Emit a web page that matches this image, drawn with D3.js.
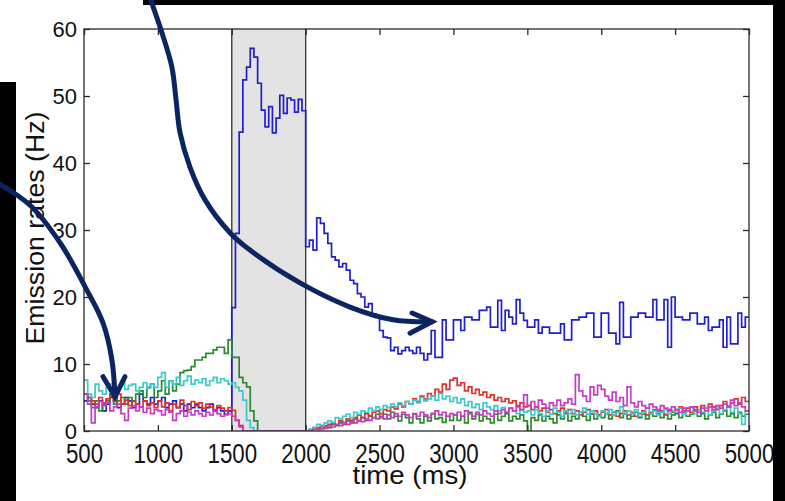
<!DOCTYPE html>
<html>
<head>
<meta charset="utf-8">
<script src="https://cdn.jsdelivr.net/npm/d3@7"></script>
<style>
  html, body { margin: 0; padding: 0; background: #fff; }
  svg { display: block; }
  text { font-family: "Liberation Sans", Arial, Helvetica, sans-serif; fill: #111; }
</style>
</head>
<body>
<svg id="chart" width="785" height="501"></svg>
<script>
// Population emission rates, 25 ms bins from 500 ms to 5000 ms (180 bins each)
const binStart = 500;
const binWidth = 25;
const timeDomain = [500, 5000];
const rateDomain = [0, 60];
const xTicks = [500, 1000, 1500, 2000, 2500, 3000, 3500, 4000, 4500, 5000];
const yTicks = [0, 10, 20, 30, 40, 50, 60];
const stimulusWindow = [1500, 2000];
const xLabel = "time (ms)";
const yLabel = "Emission rates (Hz)";

const blueRates = [
  4.5, 5, 4, 3.5, 4.5, 3, 4, 5, 4.5, 3.5, 4, 5, 4.5, 3.5, 4, 5.5, 4.5, 4, 5, 4,
  4.5, 5, 3.5, 4, 4.5, 3.5, 4, 3, 4, 3.5, 4, 3.5, 3, 3.5, 4, 3, 3.5, 3, 2.5, 3,
  18.4, 29.5, 44.6, 52.4, 54.3, 57.1, 55.8, 51.9, 47.9, 45.4, 48.4, 44.5, 46.7, 50.1, 47.4, 49.7, 49.4, 47.6, 49.5, 47.8,
  27.5, 28.5, 27, 31.8, 31, 29.5, 28, 26, 25.5, 24.5, 25, 24, 22.5, 22, 20.5, 20, 18.5, 19, 17.5, 17,
  15, 14, 13.9, 12, 12.5, 11.5, 12, 12.5, 12, 11.6, 12.5, 11.6, 10.6, 11.5, 15, 11, 11, 16.6, 13.6, 13.6,
  16.6, 16.6, 15, 17, 17, 16.6, 16.6, 18, 18, 18.5, 15.5, 15.5, 19.5, 15, 18, 17, 16, 19.6, 17.6, 16.5,
  15.5, 15.5, 16.6, 14.6, 15.5, 15.5, 14.6, 14.6, 14.6, 16, 13.6, 13.6, 16.6, 16.6, 17, 17, 17.6, 17.6, 14, 14,
  17.6, 17.6, 14.6, 14.6, 13, 19.2, 14, 14, 17, 17, 17.6, 17.6, 17, 17, 19.6, 16.6, 16.6, 19.6, 12.5, 20,
  17, 17, 16.6, 16.6, 17.6, 17.6, 16, 16, 17, 15, 15.5, 15.5, 16.6, 12.5, 17, 13, 13, 17.6, 15.5, 17
];

const greenRates = [
  5.5, 4.5, 3.5, 4.5, 3, 4, 4.5, 5.5, 4, 4.5, 5, 4, 5, 4.5, 5.5, 6, 5, 6.5, 7, 5,
  6, 7.5, 5.5, 7.5, 6, 7, 8.7, 9, 9.1, 9.6, 10.6, 10.6, 11, 11.6, 11.6, 12.1, 12.5, 12.5, 11.6, 13.6,
  11, 11, 8, 7.2, 6.6, 3, 1.5, 0, 0, 0, 0, 0, 0, 0, 0, 0, 0, 0, 0, 0,
  0, 0, 0.3, 0.5, 0.3, 0.8, 0.5, 1, 0.8, 1.2, 1, 1.5, 1.2, 1.8, 1.5, 2, 1.6, 2.2, 2, 2.5,
  2, 2.5, 1.8, 2.8, 2.2, 1.5, 2.5, 2, 1.2, 2.5, 1.8, 1.2, 2.2, 1.5, 2.6, 1.8, 2, 1.3, 2.2, 1.6,
  2.4, 1.6, 2.2, 1.2, 2.8, 1.8, 2.5, 1.5, 2.2, 1.8, 1.2, 2.5, 1.6, 2.2, 2.6, 1.5, 2.2, 1.8, 2.4, 1.5,
  0, 2, 1.6, 2.4, 1.5, 2.2, 1.8, 1.2, 2.4, 1.8, 2.6, 1.5, 2.2, 1.8, 2.8, 2.2, 1.6, 2.5, 1.8, 2.4,
  2, 2.6, 1.8, 2.4, 3, 2, 2.6, 1.8, 2.2, 2.8, 2, 2.5, 1.8, 2.6, 2.2, 3, 2, 2.5, 1.8, 2.4,
  2.6, 2, 2.8, 2.2, 2.5, 3, 2.2, 2.6, 1.8, 2.4, 2.8, 2, 2.5, 3, 2.2, 2.6, 2, 2.8, 2.2, 2.5
];

const redRates = [
  5.5, 5, 4.5, 4, 5, 4.2, 4.8, 5.2, 4.4, 5.5, 4, 4.6, 3.8, 4.4, 4, 3.6, 4.5, 3.8, 4.2, 3.5,
  4.5, 3.6, 4.2, 3, 4, 3.5, 4.6, 3.8, 3.2, 4.4, 3.8, 4.2, 3.4, 4, 3.6, 3.2, 3.8, 3.4, 3, 3.5,
  3.1, 1.6, 0.8, 0, 0, 0, 0, 0, 0, 0, 0, 0, 0, 0, 0, 0, 0, 0, 0, 0,
  0, 0.2, 0.5, 0.4, 0.8, 0.6, 1, 1.2, 0.9, 1.5, 1.3, 1.8, 1.6, 2, 2.4, 2, 2.6, 2.3, 2.8, 3,
  2.6, 3.2, 3, 3.6, 3.3, 4, 3.6, 4.4, 4, 4.8, 4.4, 5.2, 4.8, 5.6, 5.2, 6.2, 5.8, 7, 6.2, 7.6,
  7.9, 6.8, 7.2, 6, 6.6, 5.6, 6.2, 5.4, 5.8, 5, 5.4, 4.6, 5, 4.4, 4.8, 4.2, 4.5, 3.8, 4.2, 3.6,
  3.8, 3.2, 3.6, 3, 3.4, 2.8, 3.2, 2.6, 3, 3.4, 2.8, 3.2, 2.6, 3, 2.4, 2.8, 3.2, 2.6, 3, 2.4,
  2.8, 3.2, 2.4, 2.8, 2.2, 2.6, 3, 2.4, 2.8, 2.2, 2.6, 3, 2.4, 2.8, 3.2, 2.6, 3, 2.4, 3.2, 2.8,
  3.2, 3.6, 3, 3.4, 2.8, 3.6, 3.2, 3.8, 3.4, 4, 3.6, 3.2, 3.8, 4.4, 3.6, 4.2, 4.8, 4, 5, 4.4
];

const cyanRates = [
  7.6, 5.5, 5, 7, 6, 5.5, 6.5, 7, 5.8, 6.5, 7.5, 6.2, 6.8, 7, 6, 6.5, 7.2, 6.4, 7, 6.5,
  8, 8.7, 6.5, 7.5, 7, 8, 6.8, 7.5, 8.2, 7, 7.6, 7.2, 7.8, 6.8, 7.5, 8, 7.2, 7.8, 7.5, 7,
  7.2, 6.5, 6, 4.6, 1.6, 0.5, 0, 0, 0, 0, 0, 0, 0, 0, 0, 0, 0, 0, 0, 0,
  0, 0.3, 0.5, 1, 0.8, 1.2, 1.5, 1.3, 2, 1.8, 2.2, 2.5, 2, 2.8, 2.5, 3, 2.8, 3.4, 3, 3.6,
  3.2, 3.8, 3.5, 4, 3.6, 4.2, 3.8, 4.4, 4, 4.6, 4.2, 5, 4.5, 4.8, 5.2, 4.6, 5.6, 4.8, 5.2, 4.4,
  5, 4.2, 4.8, 3.8, 4.4, 3.5, 4, 3.2, 4.2, 3.6, 3.2, 3.8, 3, 3.5, 2.8, 3.4, 3, 2.6, 3.2, 2.8,
  3, 2.4, 3.2, 2.6, 2.2, 3, 2.5, 3.4, 2.8, 2.2, 3, 2.6, 3.2, 2.4, 2.8, 3.4, 2.5, 3, 2.6, 2.2,
  3, 2.6, 3.2, 2.4, 2.8, 3.6, 2.5, 3, 2.6, 3.2, 2.2, 2.8, 3.4, 2.6, 3, 2.4, 2.8, 3.2, 2.6, 3,
  2.8, 3.4, 2.5, 3, 3.6, 2.6, 3.2, 2.8, 3.5, 2.4, 3, 3.4, 2.6, 3.2, 3.8, 2.8, 3.4, 2.6, 1, 3
];

const magentaRates = [
  5.5, 4, 1.2, 3.6, 4.4, 3.8, 4.2, 3, 3.6, 4, 2.6, 1.6, 3.4, 3.8, 3, 3.6, 2.8, 3.4, 2.6, 3.2,
  3, 2.4, 3.2, 2.8, 1.6, 2.6, 3, 2.2, 2.8, 2.4, 3, 2.6, 2.2, 2.8, 2.4, 3, 2.6, 2.2, 2.4, 2.6,
  2.2, 1.6, 0.6, 0, 0, 0, 0, 0, 0, 0, 0, 0, 0, 0, 0, 0, 0, 0, 0, 0,
  0, 0, 0.3, 0.2, 0.6, 0.4, 0.8, 0.6, 1, 0.8, 1.2, 1, 1.4, 1.2, 1.6, 1.4, 1.8, 1.6, 2, 1.8,
  2.2, 1.8, 2.4, 2, 2.6, 2.2, 2.8, 2.4, 2, 2.6, 2.2, 2.8, 2.4, 2, 2.6, 3, 2.4, 2.8, 2.2, 2.6,
  2.4, 2.8, 2.2, 3, 2.6, 2.2, 2.8, 2.4, 3, 2.6, 2.2, 3, 2.6, 3.2, 2.8, 3.4, 3, 3.6, 3.2, 5.4,
  3.8, 4.4, 3.6, 4.6, 4, 3.4, 4.2, 3.8, 4.6, 3.8, 4.2, 4.8, 4, 8.4, 6, 5.2, 4.4, 6.6, 5.4, 6.8,
  6.2, 5.2, 4.6, 5.8, 4.4, 5, 3.8, 6.6, 4.2, 3.6, 4.4, 3.8, 3.4, 4, 3.6, 3.2, 3.8, 3.4, 3, 3.6,
  3.2, 2.8, 3.4, 3, 3.6, 3.2, 2.8, 3.4, 3, 3.6, 3.2, 3.8, 3.4, 4, 3.6, 4.6, 3.8, 4.2, 3.6, 3
];

// Annotation arrows, given in (ms, Hz) so they follow the same scales
const arrowFromTop = [[947, 64.6], [1028, 59.4], [1095, 54.3], [1123, 49.4], [1150, 44.5],
  [1217, 39.4], [1319, 34.5], [1488, 29.6], [1623, 27.0], [1962, 22.1], [2300, 18.5],
  [2591, 16.6], [2855, 16.3]];
const arrowFromTopHead = [[2720, 17.6], [2855, 16.3], [2706, 14.6]];
const arrowFromLeft = [[-82, 37], [135, 33.7], [338, 28.1], [520, 21.0], [629, 16.1],
  [689, 10.6], [710, 5.1]];
const arrowFromLeftHead = [[629, 8.1], [710, 5.1], [777, 8.1]];

const series = [
  { name: "blue", values: blueRates, color: "#1f1fcf" },
  { name: "green", values: greenRates, color: "#2b8a2b" },
  { name: "red", values: redRates, color: "#e2302c" },
  { name: "cyan", values: cyanRates, color: "#3cc9c9" },
  { name: "magenta", values: magentaRates, color: "#c63cc6" }
];

const svg = d3.select("#chart");
const plot = { left: 84, right: 749, top: 29, bottom: 431 };

const x = d3.scaleLinear().domain(timeDomain).range([plot.left, plot.right]);
const y = d3.scaleLinear().domain(rateDomain).range([plot.bottom, plot.top]);

svg.append("rect").attr("width", 785).attr("height", 501).attr("fill", "#fff");

svg.append("defs").append("clipPath").attr("id", "plot-clip")
  .append("rect")
  .attr("x", plot.left).attr("y", plot.top)
  .attr("width", plot.right - plot.left).attr("height", plot.bottom - plot.top);

// stimulus window shading
svg.append("rect")
  .attr("x", x(stimulusWindow[0]))
  .attr("y", plot.top)
  .attr("width", x(stimulusWindow[1]) - x(stimulusWindow[0]))
  .attr("height", plot.bottom - plot.top)
  .attr("fill", "#e3e3e3");

svg.selectAll("line.stim")
  .data(stimulusWindow)
  .join("line")
  .attr("class", "stim")
  .attr("x1", d => x(d)).attr("x2", d => x(d))
  .attr("y1", plot.top).attr("y2", plot.bottom)
  .attr("stroke", "#333").attr("stroke-width", 1.3);

// histogram traces drawn as stairs
const stairs = d3.line()
  .x(d => x(d.t))
  .y(d => y(d.v))
  .curve(d3.curveStepAfter);

const traces = svg.append("g").attr("clip-path", "url(#plot-clip)");
series.forEach(s => {
  const pts = s.values.map((v, i) => ({ t: binStart + i * binWidth, v }));
  pts.push({ t: binStart + s.values.length * binWidth, v: s.values[s.values.length - 1] });
  traces.append("path")
    .attr("d", stairs(pts))
    .attr("fill", "none")
    .attr("stroke", s.color)
    .attr("stroke-width", 1.7)
    .attr("stroke-linejoin", "miter");
});

// frame
svg.append("rect")
  .attr("x", plot.left).attr("y", plot.top)
  .attr("width", plot.right - plot.left).attr("height", plot.bottom - plot.top)
  .attr("fill", "none").attr("stroke", "#2a2a2a").attr("stroke-width", 1.3);

function styleTicks(g) {
  g.select(".domain").remove();
  g.selectAll(".tick line").attr("stroke", "#2a2a2a").attr("stroke-width", 1.3);
}

const plainFormat = d3.format("d");

// axes with inward ticks on all four sides
const gBottom = svg.append("g").attr("transform", `translate(0,${plot.bottom})`)
  .call(d3.axisBottom(x).tickValues(xTicks).tickFormat(plainFormat)
    .tickSizeInner(-6).tickSizeOuter(0).tickPadding(0));
styleTicks(gBottom);
gBottom.selectAll(".tick text")
  .attr("y", 32).attr("dy", null)
  .attr("font-size", 27)
  .attr("textLength", d => plainFormat(d).length * 12.4)
  .attr("lengthAdjust", "spacingAndGlyphs")
  .style("fill", "#111");

const gTop = svg.append("g").attr("transform", `translate(0,${plot.top})`)
  .call(d3.axisTop(x).tickValues(xTicks).tickSizeInner(-6).tickSizeOuter(0).tickFormat(""));
styleTicks(gTop);

const gLeft = svg.append("g").attr("transform", `translate(${plot.left},0)`)
  .call(d3.axisLeft(y).tickValues(yTicks).tickFormat(plainFormat)
    .tickSizeInner(-6).tickSizeOuter(0).tickPadding(7));
styleTicks(gLeft);
gLeft.selectAll(".tick text")
  .attr("dy", "0.35em")
  .attr("font-size", 22)
  .style("fill", "#111");

const gRight = svg.append("g").attr("transform", `translate(${plot.right},0)`)
  .call(d3.axisRight(y).tickValues(yTicks).tickSizeInner(-6).tickSizeOuter(0).tickFormat(""));
styleTicks(gRight);

// axis titles
svg.append("text")
  .attr("x", 410).attr("y", 484)
  .attr("text-anchor", "middle")
  .attr("font-size", 26)
  .attr("textLength", 115).attr("lengthAdjust", "spacingAndGlyphs")
  .text(xLabel);

svg.append("text")
  .attr("transform", "translate(44,228) rotate(-90)")
  .attr("text-anchor", "middle")
  .attr("font-size", 26)
  .attr("textLength", 233).attr("lengthAdjust", "spacingAndGlyphs")
  .text(yLabel);

// dark border bands around the figure
const bands = [
  { x: 0, y: 82, w: 16, h: 419 },
  { x: 143, y: 0, w: 642, h: 5 },
  { x: 773, y: 0, w: 12, h: 501 }
];
svg.selectAll("rect.band").data(bands).join("rect")
  .attr("class", "band")
  .attr("x", d => d.x).attr("y", d => d.y)
  .attr("width", d => d.w).attr("height", d => d.h)
  .attr("fill", "#000");

// curved annotation arrows
const arrowColor = "#0b2561";
const curve = d3.line().x(d => x(d[0])).y(d => y(d[1])).curve(d3.curveCatmullRom.alpha(0.5));
const poly = d3.line().x(d => x(d[0])).y(d => y(d[1]));
[[arrowFromTop, arrowFromTopHead], [arrowFromLeft, arrowFromLeftHead]].forEach(([body, head]) => {
  svg.append("path").attr("d", curve(body))
    .attr("fill", "none").attr("stroke", arrowColor)
    .attr("stroke-width", 5).attr("stroke-linecap", "round");
  svg.append("path").attr("d", poly(head))
    .attr("fill", "none").attr("stroke", arrowColor)
    .attr("stroke-width", 5).attr("stroke-linecap", "round").attr("stroke-linejoin", "miter");
});
</script>
</body>
</html>
